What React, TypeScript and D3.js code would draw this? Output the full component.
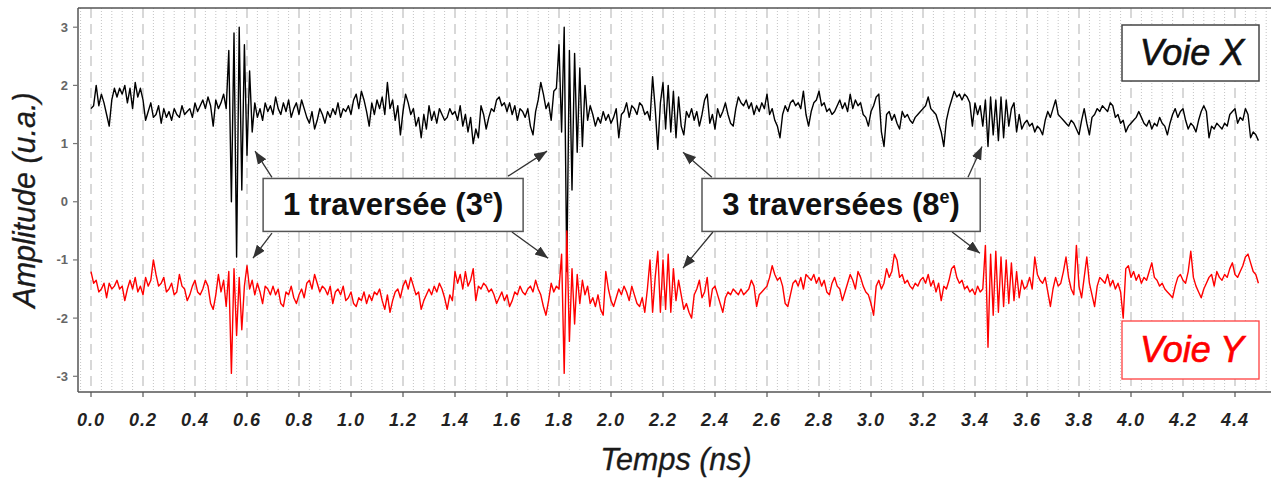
import React from "react";
import * as d3 from "d3";

const T_START = 0;
const T_STEP = 0.01;

const voieX: number[] = [
1.6,1.65,2.0,1.65,1.85,1.7,1.5,1.3,1.75,1.95,
1.8,1.95,1.85,2.0,1.7,1.95,1.6,2.05,1.8,1.95,
1.75,1.4,1.55,1.7,1.45,1.5,1.65,1.35,1.6,1.45,
1.55,1.4,1.6,1.5,1.45,1.65,1.5,1.55,1.6,1.45,
1.7,1.55,1.65,1.75,1.6,1.8,1.65,1.3,1.75,1.6,
1.7,1.85,1.6,2.6,0.0,2.9,-0.95,3.0,0.2,2.7,
0.8,2.25,1.2,1.7,1.45,1.6,1.4,1.7,1.55,1.65,
1.5,1.8,1.6,1.5,1.7,1.55,1.75,1.45,1.6,1.7,
1.5,1.75,1.6,1.45,1.35,1.55,1.25,1.4,1.6,1.5,
1.35,1.55,1.45,1.6,1.5,1.7,1.45,1.6,1.55,1.65,
1.5,1.75,1.85,1.6,1.9,1.75,1.55,1.3,1.7,1.5,
1.75,1.6,1.8,1.5,2.05,1.6,1.75,1.4,1.65,1.15,
1.55,1.85,1.7,1.5,1.6,1.3,1.45,1.1,1.5,1.25,
1.65,1.4,1.55,1.35,1.6,1.5,1.4,1.45,1.6,1.5,
1.55,1.4,1.65,1.3,1.5,1.2,1.45,1.0,1.25,1.1,
1.65,1.5,1.25,1.45,1.6,1.55,1.75,1.8,1.65,1.7,
1.55,1.7,1.5,1.65,1.4,1.6,1.55,1.45,1.6,1.3,
1.15,1.55,1.75,2.05,1.85,1.6,1.7,1.4,1.9,1.95,
2.7,1.2,3.0,-1.2,2.6,0.2,2.55,0.85,2.3,0.95,
2.0,1.4,1.65,1.5,1.3,1.45,1.35,1.55,1.4,1.5,
1.35,1.45,1.6,1.1,1.5,1.55,1.7,1.45,1.65,1.6,
1.5,1.7,1.65,1.5,1.55,1.4,2.15,1.6,0.9,1.7,
2.05,1.25,2.0,1.2,1.9,1.1,1.8,1.3,1.15,1.55,
1.45,1.6,1.4,1.55,1.3,1.5,1.75,1.85,1.35,1.5,
1.25,1.6,1.45,1.55,1.7,1.5,1.35,1.3,1.6,1.8,
1.7,1.65,1.75,1.6,1.7,1.5,1.65,1.55,1.7,1.6,
1.85,1.5,1.6,1.4,1.3,1.1,1.5,1.65,1.55,1.7,
1.75,1.65,1.7,1.6,1.9,1.5,1.3,1.55,1.7,1.75,
1.9,1.65,1.7,1.55,1.6,1.5,1.55,1.65,1.75,1.6,
1.7,1.55,1.85,1.6,1.75,1.65,1.7,1.5,1.45,1.3,
1.55,1.65,1.8,1.85,1.2,0.95,1.5,1.55,1.4,1.5,
1.35,1.25,1.55,1.45,1.5,1.4,1.35,1.45,1.5,1.55,
1.6,1.65,1.8,1.6,1.55,1.5,1.35,1.2,0.95,1.4,
1.6,1.75,1.9,1.8,1.85,1.75,1.85,1.8,1.7,1.3,
1.7,1.5,1.65,1.3,1.75,0.95,1.8,1.15,1.75,1.05,
1.8,1.1,1.75,1.3,1.6,1.7,1.2,1.5,1.25,1.35,
1.4,1.3,1.35,1.2,1.3,1.25,1.15,1.4,1.55,1.45,
1.6,1.75,1.5,1.45,1.4,1.35,1.3,1.4,1.35,1.25,
1.15,1.4,1.6,1.35,1.15,1.45,1.5,1.6,1.55,1.65,
1.6,1.55,1.7,1.65,1.45,1.5,1.35,1.4,1.2,1.3,
1.35,1.4,1.45,1.55,1.45,1.35,1.3,1.4,1.25,1.35,
1.3,1.45,1.35,1.3,1.15,1.35,1.5,1.6,1.45,1.55,
1.6,1.4,1.25,1.35,1.3,1.2,1.4,1.55,1.65,1.55,
1.1,1.3,1.25,1.35,1.3,1.25,1.35,1.3,1.5,1.55,
1.6,1.35,1.45,1.4,1.6,1.5,1.1,1.2,1.15,1.05
];

const voieY: number[] = [
-1.2,-1.4,-1.35,-1.55,-1.5,-1.4,-1.65,-1.4,-1.5,-1.45,
-1.35,-1.5,-1.45,-1.7,-1.5,-1.35,-1.5,-1.3,-1.55,-1.45,
-1.6,-1.3,-1.45,-1.35,-1.0,-1.25,-1.45,-1.4,-1.3,-1.55,
-1.5,-1.4,-1.6,-1.55,-1.25,-1.45,-1.5,-1.7,-1.6,-1.45,
-1.35,-1.55,-1.6,-1.5,-1.35,-1.45,-1.75,-1.85,-1.6,-1.25,
-1.55,-1.35,-1.8,-1.2,-2.95,-1.15,-2.3,-1.3,-2.2,-1.45,
-1.1,-1.5,-1.35,-1.6,-1.4,-1.55,-1.75,-1.45,-1.5,-1.6,
-1.45,-1.6,-1.5,-1.75,-1.8,-1.55,-1.6,-1.45,-1.65,-1.75,
-1.6,-1.5,-1.65,-1.4,-1.35,-1.5,-1.25,-1.4,-1.55,-1.45,
-1.5,-1.6,-1.45,-1.75,-1.55,-1.5,-1.6,-1.45,-1.7,-1.65,
-1.55,-1.75,-1.8,-1.65,-1.7,-1.55,-1.75,-1.6,-1.7,-1.55,
-1.6,-1.5,-1.7,-1.85,-1.6,-1.9,-1.7,-1.55,-1.5,-1.65,
-1.45,-1.35,-1.5,-1.3,-1.45,-1.6,-1.55,-1.85,-1.7,-1.6,
-1.5,-1.6,-1.45,-1.55,-1.4,-1.5,-1.65,-1.85,-1.6,-1.7,
-1.2,-1.4,-1.25,-1.5,-1.2,-1.45,-1.35,-1.15,-1.7,-1.45,
-1.5,-1.4,-1.45,-1.55,-1.5,-1.6,-1.75,-1.65,-1.55,-1.7,
-1.6,-1.8,-1.7,-1.55,-1.6,-1.45,-1.55,-1.6,-1.5,-1.45,
-1.55,-1.35,-1.5,-1.6,-1.8,-1.95,-1.7,-1.4,-1.55,-1.45,
-1.5,-0.9,-2.95,-0.5,-2.4,-1.15,-2.1,-1.25,-1.75,-1.35,
-1.6,-1.45,-1.75,-1.65,-1.8,-1.6,-1.85,-1.95,-1.2,-1.5,
-1.7,-1.8,-1.65,-1.5,-1.6,-1.45,-1.55,-1.7,-1.45,-1.6,
-1.75,-1.8,-1.65,-1.9,-1.5,-1.0,-1.9,-1.3,-0.85,-1.9,
-1.0,-1.85,-0.9,-1.9,-1.15,-1.7,-1.35,-1.6,-1.85,-1.75,
-1.9,-2.0,-1.6,-1.5,-1.35,-1.65,-1.55,-1.3,-1.8,-1.5,
-1.45,-1.6,-1.75,-1.9,-1.65,-1.55,-1.6,-1.5,-1.55,-1.6,
-1.5,-1.6,-1.55,-1.5,-1.35,-1.45,-1.8,-1.6,-1.55,-1.5,
-1.45,-1.3,-1.1,-1.25,-1.35,-1.3,-1.45,-1.75,-1.8,-1.6,
-1.4,-1.35,-1.45,-1.3,-1.5,-1.25,-1.3,-1.35,-1.25,-1.4,
-1.3,-1.45,-1.35,-1.55,-1.6,-1.4,-1.3,-1.45,-1.5,-1.7,
-1.55,-1.4,-1.25,-1.35,-1.5,-1.2,-1.3,-1.45,-1.55,-1.6,
-1.75,-1.95,-1.45,-1.35,-1.5,-1.4,-1.15,-1.3,-1.2,-0.9,
-1.0,-1.3,-1.25,-1.4,-1.35,-1.45,-1.5,-1.4,-1.45,-1.35,
-1.3,-1.4,-1.25,-1.45,-1.35,-1.55,-1.4,-1.7,-1.45,-1.5,
-1.35,-1.15,-1.1,-1.3,-1.4,-1.35,-1.5,-1.45,-1.55,-1.5,
-1.6,-1.45,-1.55,-1.5,-0.75,-2.5,-0.9,-1.95,-0.85,-1.9,
-0.95,-1.8,-1.0,-1.75,-1.05,-1.7,-1.2,-1.65,-1.35,-1.5,
-1.45,-1.3,-1.5,-0.95,-1.25,-1.35,-1.4,-1.3,-1.55,-1.8,
-1.5,-1.3,-1.45,-1.4,-1.2,-0.95,-1.3,-1.5,-1.6,-0.75,
-1.45,-1.65,-1.3,-0.95,-1.4,-1.6,-1.8,-1.45,-1.3,-1.35,
-1.4,-1.25,-1.45,-1.35,-1.5,-1.4,-1.55,-2.0,-1.15,-1.1,
-1.3,-1.2,-1.35,-1.25,-1.4,-1.3,-1.35,-1.2,-1.05,-1.3,
-1.35,-1.45,-1.4,-1.5,-1.55,-1.6,-1.65,-1.45,-1.3,-1.25,
-1.35,-1.4,-1.2,-0.85,-1.3,-1.45,-1.55,-1.65,-1.5,-1.4,
-1.3,-1.25,-1.45,-1.2,-1.3,-1.35,-1.25,-1.3,-1.15,-1.05,
-1.25,-1.3,-1.2,-1.1,-0.95,-0.9,-1.05,-1.2,-1.25,-1.4
];

const xTickValues: number[] = [0,0.2,0.4,0.6,0.8,1.0,1.2,1.4,1.6,1.8,2.0,2.2,2.4,2.6,2.8,3.0,3.2,3.4,3.6,3.8,4.0,4.2,4.4];
const yTickValues: number[] = [3,2,1,0,-1,-2,-3];

const annotations = [
  { label: "1 traversée (3", sup: "e", after: ")", t0: 0.662, t1: 1.662 },
  { label: "3 traversées (8", sup: "e", after: ")", t0: 2.35, t1: 3.42 },
];
// arrows: [from t, from v, to t, to v]
const arrows: number[][] = [
  [0.696, 0.42, 0.631, 0.87],
  [0.696, -0.54, 0.623, -0.97],
  [1.604, 0.44, 1.754, 0.87],
  [1.619, -0.52, 1.758, -0.97],
  [2.388, 0.42, 2.277, 0.85],
  [2.392, -0.52, 2.277, -1.14],
  [3.373, 0.42, 3.427, 0.95],
  [3.312, -0.52, 3.419, -0.885],
];

const W = 1271, H = 480;
const FONT = "'Liberation Sans', Arial, Helvetica, sans-serif";

export default function App() {
  const x = d3.scaleLinear().domain([-0.05, 4.54]).range([78, 1271.4]);
  const y = d3.scaleLinear().domain([-3.27, 3.33]).range([392, 8]);
  const left = 78, top = 8, bottom = 392, right = W;

  const line = d3.line<number>()
    .x((_, i) => x(T_START + i * T_STEP))
    .y((d) => y(d));

  const minor = d3.range(-1, 114).map((k) => k * 0.04).filter((_, i) => (i - 1) % 5 !== 0);

  const boxTop = y(0.4), boxBot = y(-0.51);

  return (
    <div style={{ position: "absolute", left: 0, top: 0 }}>
      <svg width={W} height={H} style={{ display: "block", background: "#fff" }} fontFamily={FONT}>
        <defs>
          <marker id="ah" markerUnits="userSpaceOnUse" markerWidth="14" markerHeight="12" refX="13" refY="5" orient="auto">
            <path d="M0,0 L13,5 L0,10 Z" fill="#333" />
          </marker>
          <clipPath id="plot">
            <rect x={left} y={top} width={right - left} height={bottom - top} />
          </clipPath>
        </defs>
        {/* grid */}
        <g>
          {minor.map((t, i) => (
            <line key={"m" + i} x1={x(t)} x2={x(t)} y1={top} y2={bottom} stroke="#c4c4c4" strokeWidth={1} strokeDasharray="1,2" />
          ))}
          {xTickValues.map((t, i) => (
            <line key={"M" + i} x1={x(t)} x2={x(t)} y1={top} y2={bottom} stroke="#cfcfcf" strokeWidth={1.6} strokeDasharray="10,6" />
          ))}
        </g>
        {/* series */}
        <g clipPath="url(#plot)">
          <path d={line(voieX) || ""} fill="none" stroke="#000" strokeWidth={1.4} strokeLinejoin="round" />
          <path d={line(voieY) || ""} fill="none" stroke="#ff0000" strokeWidth={1.4} strokeLinejoin="round" />
        </g>
        {/* frame */}
        <line x1={left} x2={right} y1={top} y2={top} stroke="#555" strokeWidth={1.5} />
        <line x1={left} x2={left} y1={top} y2={bottom} stroke="#555" strokeWidth={1.5} />
        <line x1={left} x2={right} y1={bottom} y2={bottom} stroke="#555" strokeWidth={1.5} />
        {/* y ticks */}
        {yTickValues.map((v) => (
          <g key={"y" + v}>
            <line x1={left - 5} x2={left} y1={y(v)} y2={y(v)} stroke="#777" strokeWidth={1.2} />
            <text x={68} y={y(v) + 4.5} textAnchor="end" fontSize={13} fontWeight="bold" fill="#666">{v}</text>
          </g>
        ))}
        {/* x ticks */}
        {xTickValues.map((t) => (
          <g key={"x" + t}>
            <line x1={x(t)} x2={x(t)} y1={bottom} y2={bottom + 5} stroke="#555" strokeWidth={1.2} />
            <text x={x(t)} y={426} textAnchor="middle" fontSize={18} fontWeight="bold" fontStyle="italic" fill="#222" letterSpacing={1}>{t.toFixed(1)}</text>
          </g>
        ))}
        {/* axis titles */}
        <text x={676} y={470} textAnchor="middle" fontSize={30.5} fontStyle="italic" fill="#1a1a1a" stroke="#1a1a1a" strokeWidth={0.3}>Temps (ns)</text>
        <text transform="translate(35,200) rotate(-90)" textAnchor="middle" fontSize={30.5} fontStyle="italic" fill="#1a1a1a" stroke="#1a1a1a" strokeWidth={0.3}>Amplitude (u.a.)</text>
        {/* arrows */}
        {arrows.map((a, i) => (
          <line key={"a" + i} x1={x(a[0])} y1={y(a[1])} x2={x(a[2])} y2={y(a[3])} stroke="#333" strokeWidth={1.3} markerEnd="url(#ah)" />
        ))}
        {/* annotation boxes */}
        {annotations.map((b, i) => {
          const x0 = x(b.t0), x1 = x(b.t1);
          return (
            <g key={"b" + i}>
              <rect x={x0} y={boxTop} width={x1 - x0} height={boxBot - boxTop} fill="#fff" stroke="#555" strokeWidth={1.5} />
              <text x={(x0 + x1) / 2} y={215} textAnchor="middle" fontSize={31} fontWeight="bold" fill="#111">
                {b.label}
                <tspan fontSize={18} dy={-12}>{b.sup}</tspan>
                <tspan dy={12}>{b.after}</tspan>
              </text>
            </g>
          );
        })}
        {/* legends */}
        <rect x={1122} y={25} width={137} height={56} fill="#fff" stroke="#444" strokeWidth={1.5} />
        <text x={1192} y={65} textAnchor="middle" fontSize={36} fontStyle="italic" fill="#111" stroke="#111" strokeWidth={0.6}>Voie X</text>
        <rect x={1122} y={321} width={137} height={58} fill="#fff" stroke="#ff4040" strokeWidth={1.3} />
        <text x={1192} y={362} textAnchor="middle" fontSize={36} fontStyle="italic" fill="#ff0000" stroke="#ff0000" strokeWidth={0.6}>Voie Y</text>
      </svg>
    </div>
  );
}
